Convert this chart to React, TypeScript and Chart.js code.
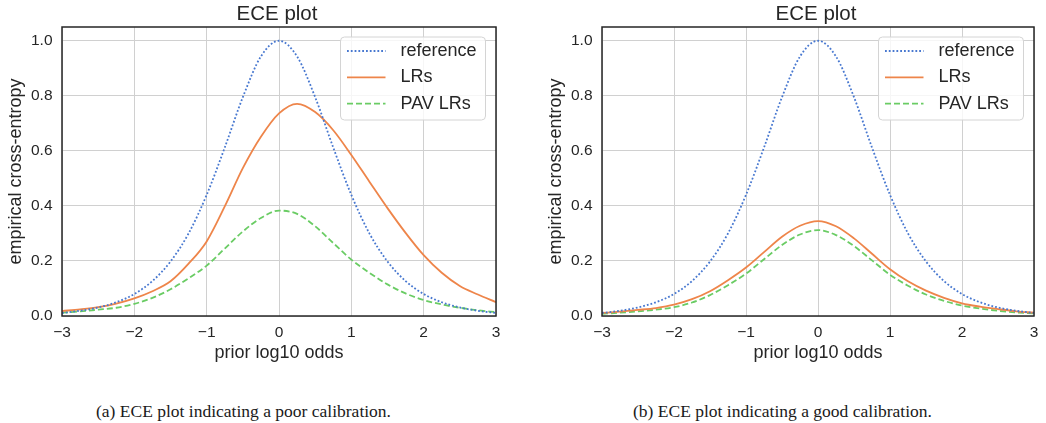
import React, { useEffect, useRef } from "react";
import { Chart, registerables } from "chart.js";

Chart.register(...registerables);

// ---------- data ----------
const priorLogOdds = [
  -3, -2.75, -2.5, -2.25, -2, -1.75, -1.5, -1.25, -1, -0.75, -0.5, -0.25, 0,
  0.25, 0.5, 0.75, 1, 1.25, 1.5, 1.75, 2, 2.25, 2.5, 2.75, 3,
];

const referenceEce = [
  0.011, 0.019, 0.031, 0.05, 0.08, 0.127, 0.198, 0.3, 0.44, 0.612, 0.795, 0.943, 1.0,
  0.943, 0.795, 0.612, 0.44, 0.3, 0.198, 0.127, 0.08, 0.05, 0.031, 0.019, 0.011,
];

const poorLrsEce = [
  0.018, 0.024, 0.032, 0.045, 0.064, 0.09, 0.126, 0.19, 0.271, 0.398, 0.537, 0.651, 0.736,
  0.771, 0.741, 0.675, 0.585, 0.488, 0.392, 0.302, 0.221, 0.157, 0.109, 0.078, 0.05,
];

const poorPavEce = [
  0.012, 0.017, 0.023, 0.03, 0.044, 0.066, 0.097, 0.137, 0.183, 0.245, 0.307, 0.356, 0.383,
  0.371, 0.326, 0.265, 0.205, 0.157, 0.115, 0.082, 0.058, 0.042, 0.03, 0.021, 0.014,
];

const goodLrsEce = [
  0.011, 0.016, 0.022, 0.029, 0.041, 0.061, 0.09, 0.13, 0.176, 0.232, 0.288, 0.328, 0.345,
  0.326, 0.282, 0.226, 0.17, 0.126, 0.092, 0.066, 0.046, 0.034, 0.025, 0.017, 0.012,
];

const goodPavEce = [
  0.008, 0.012, 0.017, 0.023, 0.032, 0.049, 0.076, 0.112, 0.154, 0.206, 0.258, 0.296, 0.312,
  0.294, 0.254, 0.202, 0.15, 0.11, 0.078, 0.055, 0.038, 0.027, 0.019, 0.013, 0.009,
];

const seriesLabels = ["reference", "LRs", "PAV LRs"];
const xTickValues = [-3, -2, -1, 0, 1, 2, 3];
const yTickValues = [0, 0.2, 0.4, 0.6, 0.8, 1.0];
const chartTitle = "ECE plot";
const xAxisTitle = "prior log10 odds";
const yAxisTitle = "empirical cross-entropy";
const captionPoor = "(a) ECE plot indicating a poor calibration.";
const captionGood = "(b) ECE plot indicating a good calibration.";

// ---------- style ----------
const FONT = "'Liberation Sans', Arial, Helvetica, sans-serif";
const INK = "#262626";
const BLUE = "#4878d0";
const ORANGE = "#ee854a";
const GREEN = "#6acc64";
const CANVAS_H = 370;

function fmtTick(v: number, digits: number) {
  const s = Math.abs(v).toFixed(digits);
  return v < -1e-9 ? "\u2212" + s : s;
}

function roundRectPath(ctx: CanvasRenderingContext2D, x: number, y: number, w: number, h: number, r: number) {
  ctx.beginPath();
  ctx.moveTo(x + r, y);
  ctx.lineTo(x + w - r, y);
  ctx.arcTo(x + w, y, x + w, y + r, r);
  ctx.lineTo(x + w, y + h - r);
  ctx.arcTo(x + w, y + h, x + w - r, y + h, r);
  ctx.lineTo(x + r, y + h);
  ctx.arcTo(x, y + h, x, y + h - r, r);
  ctx.lineTo(x, y + r);
  ctx.arcTo(x, y, x + r, y, r);
  ctx.closePath();
}

const decorPlugin = {
  id: "eceDecor",
  afterDatasetsDraw(chart: any) {
    const { ctx, chartArea: a } = chart;
    ctx.save();
    // frame
    ctx.setLineDash([]);
    ctx.strokeStyle = INK;
    ctx.lineWidth = 1.5;
    ctx.strokeRect(a.left, a.top, a.right - a.left, a.bottom - a.top);

    // legend
    const bw = 145;
    const bh = 83;
    const bx = a.right - 10.5 - bw;
    const by = a.top + 10;
    roundRectPath(ctx, bx, by, bw, bh, 4);
    ctx.fillStyle = "rgba(255,255,255,0.8)";
    ctx.fill();
    ctx.strokeStyle = "#d4d4d4";
    ctx.lineWidth = 1;
    ctx.stroke();
    chart.data.datasets.forEach((ds: any, i: number) => {
      const y = by + 14 + i * 26.3;
      ctx.beginPath();
      ctx.setLineDash(ds.borderDash || []);
      ctx.strokeStyle = ds.borderColor;
      ctx.lineWidth = ds.borderWidth;
      ctx.moveTo(bx + 6.5, y);
      ctx.lineTo(bx + 45, y);
      ctx.stroke();
      ctx.setLineDash([]);
      ctx.fillStyle = INK;
      ctx.font = `18px ${FONT}`;
      ctx.textBaseline = "middle";
      ctx.textAlign = "left";
      ctx.fillText(ds.label, bx + 60, y);
    });

    // title
    ctx.fillStyle = INK;
    ctx.font = `20.5px ${FONT}`;
    ctx.textAlign = "center";
    ctx.textBaseline = "alphabetic";
    ctx.fillText(chartTitle, (a.left + a.right) / 2 - 2, 20);
    ctx.restore();
  },
};

type PanelProps = {
  pageLeft: number;
  width: number;
  areaLeft: number;
  areaRight: number;
  lrs: number[];
  pav: number[];
};

function EcePanel({ pageLeft, width, areaLeft, areaRight, lrs, pav }: PanelProps) {
  const ref = useRef<HTMLCanvasElement | null>(null);

  useEffect(() => {
    if (!ref.current) return;
    const pts = (ys: number[]) => priorLogOdds.map((x, i) => ({ x, y: ys[i] }));
    const areaTop = 27;
    const areaBottom = 316;
    const chart = new Chart(ref.current, {
      type: "line",
      data: {
        datasets: [
          {
            label: seriesLabels[0],
            data: pts(referenceEce),
            borderColor: BLUE,
            borderWidth: 1.8,
            borderDash: [1.8, 2.0],
            pointRadius: 0,
            cubicInterpolationMode: "monotone",
            fill: false,
          },
          {
            label: seriesLabels[1],
            data: pts(lrs),
            borderColor: ORANGE,
            borderWidth: 1.8,
            pointRadius: 0,
            cubicInterpolationMode: "monotone",
            fill: false,
          },
          {
            label: seriesLabels[2],
            data: pts(pav),
            borderColor: GREEN,
            borderWidth: 1.8,
            borderDash: [6, 3],
            pointRadius: 0,
            cubicInterpolationMode: "monotone",
            fill: false,
          },
        ],
      },
      options: {
        responsive: false,
        animation: false,
        devicePixelRatio: 1,
        layout: {
          padding: { top: areaTop, left: 0, right: width - areaRight, bottom: 0 },
        },
        plugins: {
          legend: { display: false },
          title: { display: false },
          tooltip: { enabled: false },
        },
        scales: {
          x: {
            type: "linear",
            min: -3,
            max: 3,
            afterBuildTicks: (s: any) => {
              s.ticks = xTickValues.map((v) => ({ value: v }));
            },
            afterFit: (s: any) => {
              s.height = CANVAS_H - areaBottom;
            },
            grid: { color: "#d0d0d0", lineWidth: 1, drawTicks: false },
            border: { display: false },
            ticks: {
              padding: 7,
              color: INK,
              font: { family: FONT, size: 15.5 },
              maxRotation: 0,
              autoSkip: false,
              callback: (v: any) => fmtTick(Number(v), 0),
            },
            title: {
              display: true,
              text: xAxisTitle,
              color: INK,
              font: { family: FONT, size: 18 },
              padding: { top: 0, bottom: 6 },
            },
          },
          y: {
            type: "linear",
            min: 0,
            max: 1.05,
            afterBuildTicks: (s: any) => {
              s.ticks = yTickValues.map((v) => ({ value: v }));
            },
            afterFit: (s: any) => {
              s.width = areaLeft;
            },
            grid: { color: "#d0d0d0", lineWidth: 1, drawTicks: false },
            border: { display: false },
            ticks: {
              padding: 9.5,
              color: INK,
              font: { family: FONT, size: 15.5 },
              autoSkip: false,
              callback: (v: any) => fmtTick(Number(v), 1),
            },
            title: {
              display: true,
              text: yAxisTitle,
              color: INK,
              font: { family: FONT, size: 18 },
              padding: { top: 5, bottom: 0 },
            },
          },
        },
      },
      plugins: [decorPlugin],
    } as any);
    return () => chart.destroy();
  }, [pageLeft, width, areaLeft, areaRight, lrs, pav]);

  return (
    <canvas
      ref={ref}
      width={width}
      height={CANVAS_H}
      style={{ position: "absolute", left: pageLeft, top: 0, width, height: CANVAS_H }}
    />
  );
}

const captionStyle: React.CSSProperties = {
  position: "absolute",
  top: 401,
  width: 420,
  textAlign: "center",
  fontFamily: "'Liberation Serif', 'Times New Roman', serif",
  fontSize: 17.5,
  lineHeight: "20px",
  color: "#1a1a1a",
  whiteSpace: "nowrap",
};

export default function App() {
  return (
    <div
      style={{
        position: "absolute",
        left: 0,
        top: 0,
        width: 1046,
        height: 423,
        background: "#ffffff",
        overflow: "hidden",
      }}
    >
      <EcePanel pageLeft={0} width={520} areaLeft={62} areaRight={496} lrs={poorLrsEce} pav={poorPavEce} />
      <EcePanel pageLeft={540} width={506} areaLeft={62} areaRight={494} lrs={goodLrsEce} pav={goodPavEce} />
      <div style={{ ...captionStyle, left: 243.5 - 210 }}>{captionPoor}</div>
      <div style={{ ...captionStyle, left: 782.5 - 210 }}>{captionGood}</div>
    </div>
  );
}
